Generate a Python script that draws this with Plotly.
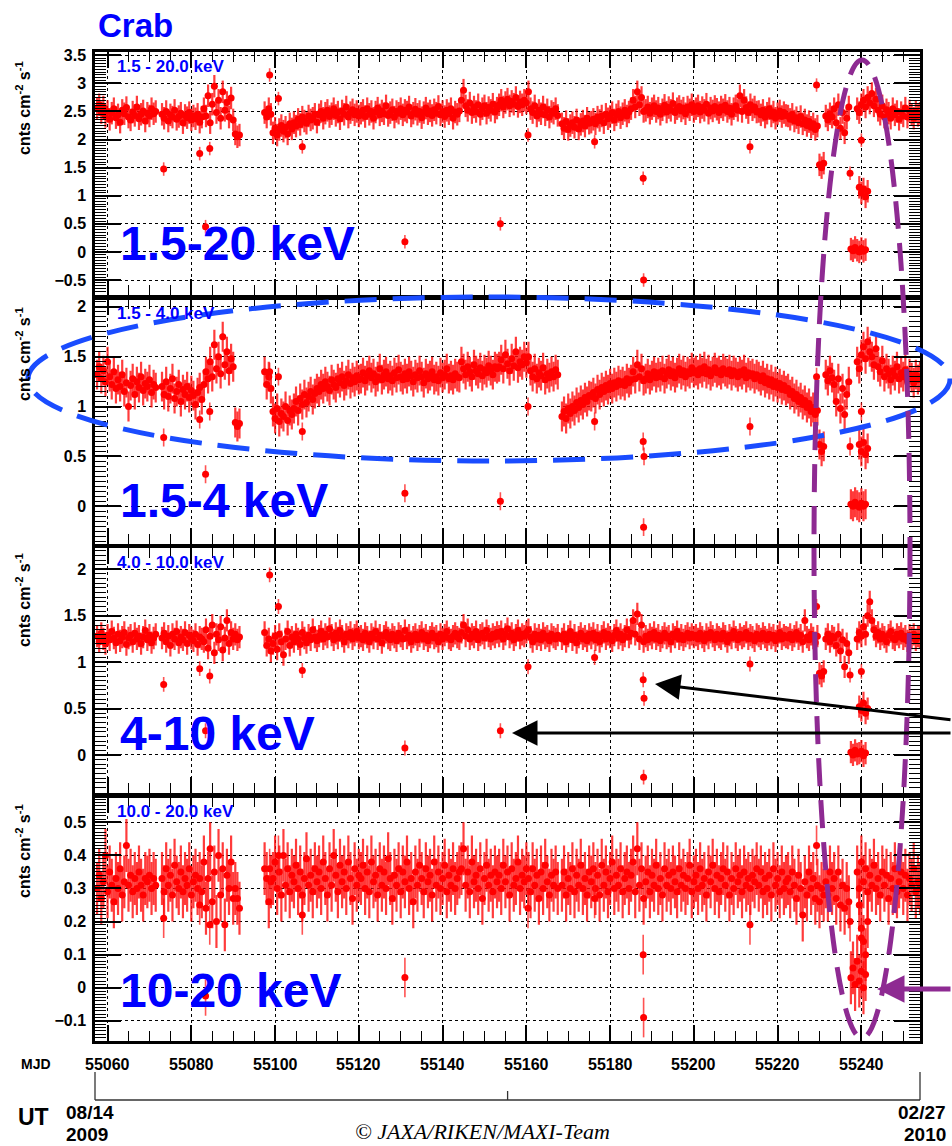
import plotly.graph_objects as go

W, H = 952, 1146

# ---------------- data ----------------
# observation segments: start MJD of each segment, points every 0.5 d
seg_start = [55057.5, 55073.0, 55090.5, 55097.5, 55099.5, 55168.5,
             55230.0, 55231.5, 55233.5, 55239.0, 55237.5, 55239.5]
SEG_STEP = 0.5

# 1.5-20 keV (segments separated by None)
p1_rate = [
    2.55, 2.62, 2.48, 2.58, 2.41, 2.50, 2.36, 2.47, 2.55, 2.39, 2.44, 2.31, 2.52, 2.46, 2.57, 2.40, 2.35, 2.49,
    2.43, 2.58, 2.37, 2.45, 2.51, 2.33, 2.47, 2.42, 2.55, 2.46, 2.50, None,
    2.45, 2.38, 2.50, 2.33, 2.44, 2.40, 2.52, 2.36, 2.41, 2.47, 2.30, 2.43, 2.39, 2.48, 2.35, 2.42, 2.37, 2.45,
    2.31, 2.40, 2.55, 2.42, 2.78, 2.30, 2.63, 2.95, 2.48, 2.70, 2.38, 2.85, 2.52, 2.66, 2.40, 2.74, 2.35, None,
    2.10, 2.05, 2.08, None,
    2.48, 2.40, 2.55, 2.45, None,
    2.12, 2.20, 2.08, 2.18, 2.25, 2.15, 2.22, 2.10, 2.28, 2.19,
    2.30, 2.24, 2.36, 2.27, 2.40, 2.33, 2.29, 2.42, 2.35, 2.38, 2.45, 2.31,
    2.44, 2.50, 2.38, 2.47, 2.52, 2.41, 2.46, 2.55, 2.43, 2.49, 2.37, 2.51, 2.45, 2.58, 2.40, 2.48, 2.53, 2.44, 2.50, 2.42,
    2.47, 2.52, 2.41, 2.55, 2.45, 2.50, 2.38, 2.49, 2.56, 2.44, 2.51, 2.46, 2.60, 2.43, 2.48, 2.53, 2.40, 2.50,
    2.47, 2.55, 2.44, 2.52, 2.49, 2.58, 2.42, 2.47, 2.54, 2.45, 2.50, 2.39, 2.48, 2.56, 2.46, 2.51, 2.43, 2.53,
    2.47, 2.59, 2.44, 2.50, 2.41, 2.52, 2.46, 2.55, 2.38, 2.49, 2.45, 2.51,
    2.70, 2.88, 2.60, 2.52, 2.65, 2.48, 2.58, 2.50, 2.62, 2.45, 2.55, 2.60, 2.47, 2.57, 2.52, 2.63, 2.49, 2.56,
    2.62, 2.70, 2.58, 2.66, 2.72, 2.60, 2.68, 2.63, 2.75, 2.59, 2.67, 2.62, 2.70, 2.65,
    2.85, 2.55, 2.48, 2.60, 2.42, 2.52, 2.46, 2.58, 2.44, 2.53, 2.40, 2.50, 2.47, 2.55, 2.43, None,
    2.28, 2.20, 2.32, 2.18, 2.25, 2.30, 2.22, 2.35, 2.19, 2.27, 2.33, 2.24, 2.38, 2.29,
    2.31, 2.36, 2.28, 2.40, 2.34, 2.42, 2.30, 2.45, 2.37, 2.41, 2.48, 2.35, 2.44, 2.50, 2.39, 2.46, 2.52, 2.42, 2.49, 2.55,
    2.70, 2.58, 2.85, 2.62, 2.75, 2.50,
    2.52, 2.58, 2.47, 2.55, 2.60, 2.50, 2.56, 2.45, 2.53, 2.61, 2.49, 2.57, 2.52, 2.64, 2.48, 2.55, 2.59, 2.51,
    2.56, 2.46, 2.58, 2.53, 2.62, 2.50,
    2.55, 2.60, 2.49, 2.57, 2.52, 2.63, 2.47, 2.56, 2.51, 2.59, 2.54, 2.48, 2.58, 2.53, 2.61, 2.50, 2.56, 2.45,
    2.55, 2.60, 2.52, 2.78, 2.50, 2.70, 2.57, 2.48, 2.62, 2.53, 2.58, 2.49,
    2.50, 2.44, 2.52, 2.40, 2.47, 2.55, 2.42, 2.49, 2.38, 2.46, 2.51, 2.41, 2.48, 2.43,
    2.42, 2.36, 2.45, 2.33, 2.39, 2.30, 2.41, 2.28, 2.35, 2.25, 2.32, 2.22, 2.28, 2.18, 2.24, None,
    1.55, 1.50, 1.58, None,
    2.42, 2.35, 2.46, 2.40, None,
    2.55, 2.30, 2.62, 2.20, 2.48, 2.12, 2.38, 2.58, None,
    2.55, 2.48, 2.62, 2.70, 2.58, 2.75, 2.65, 2.82, 2.60, 2.72, 2.52, 2.45, 2.60, 2.40, 2.53, 2.47, 2.38, 2.55,
    2.44, 2.50, 2.36, 2.48, 2.42, 2.56, 2.40, 2.51, 2.45, 2.38, 2.50, 2.43, 2.47, None,
    0.05, 0.02, 0.08, 0.03, 0.00, 0.06, 0.01, 0.04, None,
    1.15, 1.05, 1.12, 0.98, 1.08,
]

# 1.5-4 keV
p2_rate = [
    1.32, 1.40, 1.28, 1.36, 1.25, 1.45, 1.30, 1.22, 1.35, 1.18, 1.27, 1.20, 1.32, 1.15, 1.24, 1.00, 1.21, 1.28,
    1.12, 1.25, 1.19, 1.30, 1.16, 1.23, 1.20, 1.27, 1.14, 1.22, 1.19, None,
    1.20, 1.12, 1.25, 1.10, 1.18, 1.28, 1.08, 1.15, 1.22, 1.05, 1.17, 1.12, 1.20, 1.09, 1.16, 1.11, 1.02, 1.14,
    1.19, 1.07, 1.22, 1.35, 1.28, 1.45, 1.30, 1.62, 1.38, 1.50, 1.33, 1.70, 1.42, 1.55, 1.36, 1.48, 1.40, None,
    0.84, 0.80, 0.83, None,
    1.35, 1.22, 1.30, 1.18, None,
    0.95, 0.88, 0.98, 0.85, 0.93, 0.90, 1.00, 0.86, 0.96, 0.92,
    0.98, 1.05, 0.96, 1.08, 1.02, 1.12, 1.04, 1.10, 1.15, 1.07, 1.13, 1.18,
    1.15, 1.22, 1.18, 1.25, 1.20, 1.16, 1.27, 1.22, 1.19, 1.28, 1.24, 1.30, 1.21, 1.26, 1.32, 1.23, 1.29, 1.25, 1.31, 1.27,
    1.28, 1.34, 1.26, 1.31, 1.36, 1.29, 1.33, 1.25, 1.30, 1.38, 1.27, 1.32, 1.35, 1.28, 1.31, 1.26, 1.34, 1.29,
    1.37, 1.30, 1.27, 1.33, 1.28, 1.35, 1.31, 1.25, 1.32, 1.29, 1.36, 1.30, 1.24, 1.33, 1.28, 1.31, 1.35, 1.27,
    1.30, 1.26, 1.34, 1.29, 1.32, 1.38, 1.28, 1.31, 1.27, 1.33, 1.30, 1.29,
    1.45, 1.38, 1.32, 1.40, 1.35, 1.30, 1.42, 1.36, 1.33, 1.39, 1.31, 1.37, 1.34, 1.41, 1.36, 1.32, 1.40, 1.38,
    1.40, 1.47, 1.38, 1.52, 1.43, 1.36, 1.48, 1.41, 1.55, 1.39, 1.45, 1.42, 1.50, 1.44,
    1.50, 1.36, 1.30, 1.38, 1.28, 1.34, 1.31, 1.39, 1.27, 1.33, 1.29, 1.35, 1.30, 1.37, 1.32, None,
    0.90, 0.95, 0.88, 0.98, 0.93, 1.00, 0.96, 1.04, 0.99, 1.06, 1.02, 1.09, 1.05, 1.11,
    1.10, 1.14, 1.08, 1.17, 1.12, 1.19, 1.15, 1.21, 1.17, 1.23, 1.18, 1.24, 1.20, 1.26, 1.22, 1.25, 1.21, 1.28, 1.24, 1.27,
    1.35, 1.28, 1.42, 1.30, 1.38, 1.26,
    1.28, 1.33, 1.27, 1.31, 1.35, 1.29, 1.34, 1.30, 1.36, 1.28, 1.33, 1.37, 1.31, 1.35, 1.29, 1.34, 1.38, 1.32,
    1.36, 1.30, 1.35, 1.33, 1.39, 1.34,
    1.36, 1.32, 1.38, 1.34, 1.40, 1.33, 1.37, 1.31, 1.35, 1.39, 1.34, 1.36, 1.32, 1.38, 1.35, 1.33, 1.37, 1.31,
    1.36, 1.34, 1.30, 1.35, 1.32, 1.37, 1.29, 1.34, 1.31, 1.33, 1.28, 1.32,
    1.30, 1.26, 1.31, 1.24, 1.28, 1.22, 1.27, 1.20, 1.25, 1.19, 1.23, 1.17, 1.21, 1.16,
    1.18, 1.12, 1.15, 1.08, 1.12, 1.05, 1.09, 1.02, 1.06, 0.99, 1.03, 0.95, 0.99, 0.92, 0.96, None,
    0.62, 0.55, 0.60, None,
    1.32, 1.26, 1.36, 1.29, None,
    1.22, 1.05, 1.28, 0.98, 1.18, 0.92, 1.12, 1.25, None,
    1.45, 1.38, 1.52, 1.60, 1.48, 1.65, 1.55, 1.50, 1.42, 1.58, 1.40, 1.35, 1.46, 1.30, 1.38, 1.33, 1.27, 1.36,
    1.31, 1.40, 1.28, 1.34, 1.30, 1.37, 1.26, 1.33, 1.29, 1.24, 1.32, 1.27, 1.30, None,
    0.02, 0.00, 0.04, 0.01, -0.01, 0.03, 0.00, 0.02, None,
    0.62, 0.55, 0.64, 0.52, 0.58,
]

# 4-10 keV
p3_rate = [
    1.28, 1.22, 1.31, 1.25, 1.20, 1.29, 1.24, 1.33, 1.26, 1.21, 1.30, 1.23, 1.27, 1.32, 1.19, 1.26, 1.29, 1.22,
    1.31, 1.25, 1.28, 1.20, 1.27, 1.34, 1.24, 1.29, 1.21, 1.26, 1.30, None,
    1.26, 1.31, 1.22, 1.28, 1.18, 1.30, 1.25, 1.33, 1.21, 1.27, 1.24, 1.32, 1.20, 1.29, 1.26, 1.23, 1.30, 1.19,
    1.27, 1.25, 1.22, 1.35, 1.15, 1.28, 1.40, 1.10, 1.30, 1.24, 1.38, 1.13, 1.26, 1.45, 1.20, 1.32, 1.25, None,
    1.30, 1.24, 1.27, None,
    1.32, 1.18, 1.25, 1.12, None,
    1.20, 1.28, 1.14, 1.30, 1.22, 1.08, 1.25, 1.33, 1.18, 1.27,
    1.22, 1.30, 1.25, 1.19, 1.32, 1.26, 1.21, 1.29, 1.24, 1.35, 1.27, 1.23,
    1.28, 1.33, 1.25, 1.30, 1.27, 1.36, 1.29, 1.24, 1.31, 1.26, 1.34, 1.28, 1.22, 1.30, 1.27, 1.32, 1.25, 1.29, 1.33, 1.26,
    1.28, 1.24, 1.31, 1.27, 1.22, 1.30, 1.26, 1.33, 1.25, 1.29, 1.21, 1.28, 1.32, 1.26, 1.24, 1.30, 1.27, 1.23,
    1.31, 1.28, 1.25, 1.34, 1.26, 1.29, 1.22, 1.27, 1.30, 1.24, 1.28, 1.32, 1.25, 1.29, 1.23, 1.27, 1.31, 1.26,
    1.28, 1.22, 1.30, 1.25, 1.29, 1.33, 1.26, 1.24, 1.28, 1.31, 1.27, 1.25,
    1.32, 1.40, 1.28, 1.35, 1.25, 1.30, 1.27, 1.33, 1.24, 1.29, 1.31, 1.26, 1.34, 1.28, 1.25, 1.30, 1.27, 1.32,
    1.28, 1.33, 1.25, 1.30, 1.36, 1.27, 1.31, 1.24, 1.29, 1.34, 1.26, 1.30, 1.28, 1.32,
    1.35, 1.27, 1.22, 1.30, 1.25, 1.29, 1.24, 1.31, 1.26, 1.28, 1.23, 1.30, 1.27, 1.25, 1.29, None,
    1.25, 1.30, 1.22, 1.28, 1.33, 1.24, 1.29, 1.21, 1.27, 1.31, 1.25, 1.28, 1.23, 1.30,
    1.26, 1.31, 1.24, 1.29, 1.22, 1.28, 1.32, 1.25, 1.30, 1.27, 1.23, 1.29, 1.34, 1.26, 1.30, 1.24, 1.28, 1.35, 1.27, 1.31,
    1.45, 1.30, 1.52, 1.25, 1.40, 1.22,
    1.28, 1.24, 1.30, 1.26, 1.32, 1.25, 1.29, 1.23, 1.27, 1.31, 1.26, 1.28, 1.22, 1.30, 1.27, 1.33, 1.25, 1.29,
    1.24, 1.28, 1.31, 1.26, 1.30, 1.27,
    1.29, 1.25, 1.31, 1.27, 1.23, 1.30, 1.26, 1.32, 1.28, 1.24, 1.30, 1.27, 1.25, 1.31, 1.28, 1.22, 1.29, 1.26,
    1.33, 1.27, 1.24, 1.30, 1.26, 1.28, 1.32, 1.25, 1.29, 1.27, 1.23, 1.30,
    1.28, 1.25, 1.31, 1.27, 1.24, 1.30, 1.26, 1.29, 1.23, 1.28, 1.32, 1.25, 1.29, 1.27,
    1.26, 1.30, 1.24, 1.28, 1.32, 1.25, 1.29, 1.22, 1.45, 1.27, 1.24, 1.30, 1.26, 1.21, 1.28, None,
    0.88, 0.85, 0.90, None,
    1.25, 1.30, 1.22, 1.28, None,
    1.26, 1.18, 1.30, 1.12, 1.24, 0.95, 1.20, 1.10, None,
    1.25, 1.32, 1.28, 1.38, 1.30, 1.50, 1.65, 1.45, 1.35, 1.28, 1.32, 1.25, 1.30, 1.27, 1.22, 1.29, 1.33, 1.26,
    1.24, 1.30, 1.27, 1.31, 1.25, 1.28, 1.23, 1.29, 1.26, 1.30, 1.24, 1.28, 1.27, None,
    0.03, 0.00, 0.05, 0.01, 0.02, 0.04, -0.01, 0.02, None,
    0.52, 0.48, 0.56, 0.45, 0.50,
]

# 10-20 keV
p4_rate = [
    0.30, 0.34, 0.27, 0.32, 0.40, 0.29, 0.35, 0.31, 0.26, 0.33, 0.30, 0.36, 0.28, 0.32, 0.43, 0.31, 0.34, 0.29,
    0.33, 0.30, 0.35, 0.31, 0.28, 0.33, 0.32, 0.34, 0.30, 0.33, 0.31, None,
    0.33, 0.29, 0.36, 0.31, 0.34, 0.28, 0.37, 0.32, 0.30, 0.35, 0.29, 0.33, 0.31, 0.36, 0.28, 0.32, 0.34, 0.30,
    0.33, 0.29, 0.38, 0.24, 0.33, 0.42, 0.26, 0.35, 0.20, 0.40, 0.28, 0.36, 0.19, 0.34, 0.30, 0.38, 0.27, None,
    0.30, 0.27, 0.24, None,
    0.36, 0.33, 0.26, 0.32, None,
    0.33, 0.38, 0.30, 0.35, 0.28, 0.40, 0.31, 0.36, 0.29, 0.34,
    0.32, 0.37, 0.30, 0.35, 0.28, 0.33, 0.39, 0.31, 0.34, 0.29, 0.36, 0.32,
    0.35, 0.30, 0.38, 0.33, 0.28, 0.36, 0.31, 0.40, 0.34, 0.29, 0.37, 0.32, 0.35, 0.30, 0.38, 0.33, 0.27, 0.36, 0.31, 0.34,
    0.33, 0.37, 0.30, 0.35, 0.29, 0.38, 0.32, 0.34, 0.28, 0.36, 0.31, 0.35, 0.30, 0.39, 0.33, 0.27, 0.34, 0.31,
    0.36, 0.29, 0.35, 0.32, 0.38, 0.30, 0.33, 0.26, 0.35, 0.31, 0.37, 0.33, 0.29, 0.36, 0.32, 0.34, 0.28, 0.38,
    0.31, 0.35, 0.30, 0.33, 0.37, 0.29, 0.34, 0.31, 0.36, 0.30, 0.33, 0.35,
    0.36, 0.42, 0.31, 0.35, 0.29, 0.38, 0.32, 0.34, 0.30, 0.36, 0.27, 0.33, 0.37, 0.31, 0.34, 0.29, 0.35, 0.32,
    0.34, 0.30, 0.37, 0.32, 0.35, 0.28, 0.36, 0.31, 0.33, 0.38, 0.30, 0.34, 0.32, 0.36,
    0.33, 0.29, 0.36, 0.31, 0.34, 0.27, 0.35, 0.30, 0.37, 0.32, 0.28, 0.34, 0.31, 0.35, 0.30, None,
    0.31, 0.35, 0.28, 0.33, 0.30, 0.36, 0.29, 0.34, 0.31, 0.37, 0.30, 0.33, 0.28, 0.35,
    0.32, 0.36, 0.30, 0.34, 0.28, 0.37, 0.31, 0.35, 0.29, 0.33, 0.38, 0.30, 0.34, 0.31, 0.36, 0.29, 0.33, 0.35, 0.30, 0.34,
    0.38, 0.29, 0.42, 0.31, 0.36, 0.27,
    0.32, 0.35, 0.29, 0.34, 0.31, 0.37, 0.30, 0.33, 0.28, 0.36, 0.31, 0.34, 0.30, 0.35, 0.32, 0.29, 0.36, 0.31,
    0.34, 0.30, 0.33, 0.37, 0.29, 0.32,
    0.34, 0.30, 0.36, 0.31, 0.33, 0.28, 0.35, 0.32, 0.37, 0.30, 0.34, 0.29, 0.33, 0.36, 0.31, 0.35, 0.28, 0.33,
    0.30, 0.36, 0.32, 0.34, 0.29, 0.35, 0.31, 0.33, 0.30, 0.34, 0.32, 0.36,
    0.31, 0.35, 0.29, 0.33, 0.30, 0.34, 0.28, 0.36, 0.31, 0.33, 0.29, 0.35, 0.30, 0.32,
    0.33, 0.29, 0.35, 0.31, 0.27, 0.34, 0.30, 0.22, 0.32, 0.28, 0.35, 0.30, 0.33, 0.27, 0.31, None,
    0.26, 0.30, 0.28, None,
    0.32, 0.28, 0.35, 0.30, None,
    0.33, 0.27, 0.35, 0.25, 0.31, 0.24, 0.30, 0.26, None,
    0.35, 0.30, 0.38, 0.32, 0.36, 0.29, 0.34, 0.31, 0.37, 0.30, 0.33, 0.28, 0.35, 0.31, 0.34, 0.27, 0.33, 0.30,
    0.36, 0.29, 0.32, 0.35, 0.30, 0.34, 0.28, 0.33, 0.31, 0.36, 0.29, 0.32, 0.30, None,
    0.03, 0.06, 0.01, 0.08, 0.02, 0.05, 0.00, 0.04, None,
    0.25, 0.18, 0.14, 0.10, 0.20,
]

# isolated points (same epochs in every band; None = not visible)
out_mjd = [55073.4, 55082.0, 55083.4, 55084.4, 55098.7, 55100.8, 55106.5, 55131.0, 55153.8,
           55160.4, 55176.3, 55187.9, 55188.0, 55188.1, 55213.4, 55229.3, 55237.3, 55240.0]
out_p1 = [1.475, 1.75, 0.45, 1.84, 3.15, 2.73, 1.87, 0.18, 0.50,
          2.08, 1.96, 1.31, -0.50, None, 1.87, 2.97, 1.40, 1.99]
out_p2 = [0.69, 0.87, 0.32, 0.95, 1.35, 1.30, 0.75, 0.13, 0.05,
          1.00, 0.85, 0.65, -0.21, 0.50, 0.80, 1.30, 0.60, 0.95]
out_p3 = [0.76, 0.93, 0.26, 0.85, 1.94, 1.60, 0.91, 0.075, 0.26,
          0.95, 1.05, 0.81, -0.24, 0.61, 0.98, 1.60, 0.86, 0.90]
out_p4 = [0.21, 0.25, -0.025, 0.19, 0.36, 0.40, 0.22, 0.031, None,
          0.24, 0.27, 0.10, -0.09, None, 0.19, 0.43, 0.20, 0.15]

rate_err = [0.20, 0.15, 0.12, 0.08]
out_err = [0.12, 0.09, 0.08, 0.06]

band_names = ["1.5 - 20.0 keV", "1.5 - 4.0 keV", "4.0 - 10.0 keV", "10.0 - 20.0 keV"]
band_big = ["1.5-20 keV", "1.5-4 keV", "4-10 keV", "10-20 keV"]
y_ranges = [[-0.767, 3.559], [-0.374, 2.074], [-0.405, 2.23], [-0.161, 0.575]]
y_major = [0.5, 0.5, 0.5, 0.1]
y_minor = [0.05, 0.05, 0.05, 0.01]
mjd_ticks = [55060, 55080, 55100, 55120, 55140, 55160, 55180, 55200, 55220, 55240]
mjd_range = [55057, 55254]

# ---------------- layout geometry (pixels) ----------------
panel_px = [(52, 295), (299.5, 543.5), (548, 792.5), (797.5, 1041)]
X0, X1 = 95, 920


def px(x):
    return x / W


def py(y):
    return 1 - y / H


def expand(vals):
    xs, ys = [], []
    seg, k = 0, 0
    for v in vals:
        if v is None:
            seg += 1
            k = 0
            continue
        xs.append(seg_start[seg] + SEG_STEP * k)
        ys.append(v)
        k += 1
    return xs, ys


RED = "#ff0000"
BLUE = "#0000ff"
PURPLE = "#8e2a92"
FONT = "Liberation Sans"

fig = go.Figure()
bands = [p1_rate, p2_rate, p3_rate, p4_rate]
outs = [out_p1, out_p2, out_p3, out_p4]
for i in range(4):
    xs, ys = expand(bands[i])
    ox = [t for t, v in zip(out_mjd, outs[i]) if v is not None]
    oy = [v for v in outs[i] if v is not None]
    ax_suffix = "" if i == 0 else str(i + 1)
    for j, (xx, yy) in enumerate(((xs, ys), (ox, oy))):
        fig.add_trace(go.Scatter(
            x=xx, y=yy, mode="markers",
            xaxis="x" + ax_suffix, yaxis="y" + ax_suffix,
            marker=dict(color=RED, size=7, line=dict(width=0)),
            error_y=dict(type="constant", value=rate_err[i] if j == 0 else out_err[i],
                         color="rgba(255,10,10,0.8)" if j == 0 else "rgba(255,10,10,0.7)",
                         thickness=2.2 if j == 0 else 1.6, width=0),
            hoverinfo="skip", showlegend=False,
        ))

layout = dict(width=W, height=H, margin=dict(l=0, r=0, t=0, b=0, autoexpand=False),
              paper_bgcolor="white", plot_bgcolor="white", showlegend=False)

for i in range(4):
    sfx = "" if i == 0 else str(i + 1)
    top, bot = panel_px[i]
    layout["xaxis" + sfx] = dict(
        domain=[px(X0), px(X1)], range=mjd_range, anchor="y" + sfx, automargin=False,
        tickmode="array", tickvals=mjd_ticks,
        ticks="inside", ticklen=16, tickwidth=1.5, tickcolor="black",
        showline=True, linewidth=2.5, linecolor="black", mirror="ticks",
        showgrid=True, gridcolor="black", griddash="dot", gridwidth=1.2, zeroline=False,
        minor=dict(tickmode="linear", tick0=55060, dtick=5, ticks="inside", ticklen=10,
                   tickwidth=1.2, tickcolor="black", showgrid=False),
        showticklabels=False,
    )
    layout["yaxis" + sfx] = dict(
        domain=[py(bot), py(top)], range=y_ranges[i], anchor="x" + sfx, automargin=False,
        tickmode="linear", tick0=0, dtick=y_major[i],
        ticks="inside", ticklen=26, tickwidth=1.5, tickcolor="black",
        showline=True, linewidth=2.5, linecolor="black", mirror="ticks",
        showgrid=True, gridcolor="black", griddash="dot", gridwidth=1.2, zeroline=False,
        minor=dict(tickmode="linear", tick0=0, dtick=y_minor[i], ticks="inside", ticklen=11,
                   tickwidth=1.2, tickcolor="black", showgrid=False),
        ticklabelstandoff=3,
        tickfont=dict(family=FONT, size=16, color="black", weight="bold"),
    )

fig.update_layout(**layout)

ann = []


def text(x, y, s, size, color="black", xanchor="center", yanchor="middle", angle=0,
         family=FONT, weight="bold", style="normal", xref="paper"):
    ann.append(dict(x=(x if xref != "paper" else px(x)), y=py(y), xref=xref, yref="paper",
                    text=s, showarrow=False,
                    xanchor=xanchor, yanchor=yanchor, textangle=angle,
                    font=dict(family=family, size=size, color=color, weight=weight, style=style)))


# title
text(96, 25, "Crab", 33, BLUE, xanchor="left")
text(236, -1, "g", 44, RED, yanchor="bottom")

title_cy = [108, 354, 600, 851]
for i in range(4):
    top, bot = panel_px[i]
    text(115, top + 14, band_names[i], 17, BLUE, xanchor="left")
    text(23, title_cy[i], "cnts cm<sup>-2</sup> s<sup>-1</sup>", 16, angle=-90)

big_cy = [244, 500, 733, 990]
for i in range(4):
    text(118, big_cy[i], band_big[i], 48, BLUE, xanchor="left")

# MJD tick labels, placed on the bottom axis scale
for t in mjd_ticks:
    text(t, 1064, str(t), 16, xref="x4")

# bottom texts
text(36, 1064, "MJD", 14)
text(33, 1117, "UT", 23)
text(64, 1112, "08/14", 19, xanchor="left")
text(64, 1134, "2009", 19, xanchor="left")
text(948, 1112, "02/27", 19, xanchor="right")
text(948, 1134, "2010", 19, xanchor="right")
text(482, 1131, "\u00a9 JAXA/RIKEN/MAXI-Team", 22, family="Liberation Serif", weight="normal",
     style="italic")


# arrows
def arrow(hx, hy, tx, ty, color, width, size):
    ann.append(dict(x=px(hx), y=py(hy), xref="paper", yref="paper", ax=tx - hx, ay=ty - hy,
                    axref="pixel", ayref="pixel", text="", showarrow=True,
                    arrowhead=2, arrowsize=size, arrowwidth=width, arrowcolor=color))


arrow(655, 684, 1010, 720, "black", 3, 1.7)
arrow(512, 733, 1010, 733, "black", 3, 1.7)
arrow(877, 989, 1010, 989, PURPLE, 5, 1.1)

fig.update_layout(annotations=ann)

shapes = []
# blue dashed ellipse
shapes.append(dict(type="circle", xref="paper", yref="paper", x0=px(28), x1=px(950),
                   y0=py(461), y1=py(297), line=dict(color="#1a4cff", width=5, dash="32px,16px"),
                   layer="above"))
# purple dashed ellipse
shapes.append(dict(type="circle", xref="paper", yref="paper", x0=px(814), x1=px(910),
                   y0=py(1038), y1=py(60), line=dict(color=PURPLE, width=5, dash="28px,14px"),
                   layer="above"))
# UT axis
ut_col = "#333333"
for (x0, y0, x1, y1) in [(X0, 1100, X1, 1100), (X0, 1072, X0, 1100), (X1, 1072, X1, 1100),
                         (507.6, 1091, 507.6, 1100)]:
    shapes.append(dict(type="line", xref="paper", yref="paper", x0=px(x0), y0=py(y0),
                       x1=px(x1), y1=py(y1), line=dict(color=ut_col, width=1.3)))

fig.update_layout(shapes=shapes)

fig.write_html("out.html", post_script="document.body.style.margin='0px';")
